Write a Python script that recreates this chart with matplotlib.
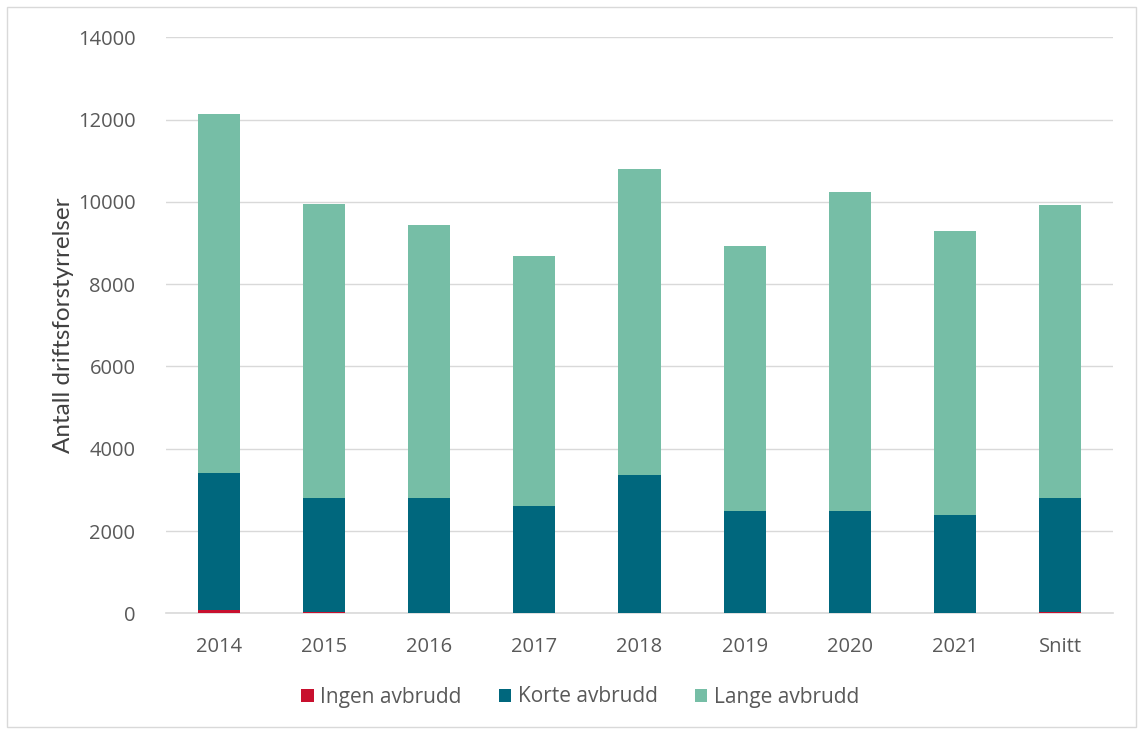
import matplotlib
matplotlib.use("Agg")
import matplotlib.pyplot as plt
import numpy as np
from matplotlib.patches import Rectangle

categories = ["2014", "2015", "2016", "2017", "2018", "2019", "2020", "2021", "Snitt"]
ingen = [80, 35, 15, 15, 15, 10, 8, 10, 20]
korte_top = [3415, 2795, 2805, 2605, 3360, 2490, 2490, 2390, 2795]
total = [12130, 9940, 9430, 8680, 10790, 8920, 10230, 9290, 9930]
korte = [k - i for k, i in zip(korte_top, ingen)]
lange = [t - k for t, k in zip(total, korte_top)]

c_ingen = "#C8102E"
c_korte = "#00677D"
c_lange = "#76BEA6"

plt.rcParams['font.family'] = ['Open Sans', 'DejaVu Sans']
fig = plt.figure(figsize=(11.39, 7.31), dpi=100)
ax = fig.add_axes([166/1139, 1 - 613.3/731, (1113-166)/1139, (613.3-37.3)/731])

x = np.arange(len(categories))
w = 0.40
ax.bar(x, ingen, w, color=c_ingen, label="Ingen avbrudd", zorder=3)
ax.bar(x, korte, w, bottom=ingen, color=c_korte, label="Korte avbrudd", zorder=3)
ax.bar(x, lange, w, bottom=korte_top, color=c_lange, label="Lange avbrudd", zorder=3)

ax.set_ylim(0, 14000)
ax.set_yticks(range(0, 14001, 2000))
ax.set_xlim(-0.5, len(categories) - 0.5)
ax.set_xticks(x)
ax.set_xticklabels(categories)
ax.grid(axis='y', color='#D9D9D9', linewidth=1, zorder=0)
for s in ['top', 'right', 'left']:
    ax.spines[s].set_visible(False)
ax.spines['bottom'].set_color('#D9D9D9')
ax.spines['bottom'].set_linewidth(1.2)
ax.tick_params(axis='both', length=0, labelsize=14.5, labelcolor='#595959')
ax.tick_params(axis='x', pad=17)
ax.tick_params(axis='y', pad=22)
ax.set_ylabel("Antall driftsforstyrrelser", fontsize=17.5, color='#404040',
              family=['Lato', 'DejaVu Sans'], labelpad=3)

leg = fig.legend(loc='center', bbox_to_anchor=(580/1139, 1 - 697/731), ncol=3,
                 frameon=False, fontsize=15, handlelength=0.6, handleheight=0.6,
                 columnspacing=1.8, handletextpad=0.3)
for t in leg.get_texts():
    t.set_color('#595959')

fig.patches.append(Rectangle((7/1139, 4/731), (1136-7)/1139, (727-7)/731, transform=fig.transFigure,
                             fill=False, edgecolor='#D9D9D9', linewidth=1))

fig.savefig("out.png", dpi=100)
